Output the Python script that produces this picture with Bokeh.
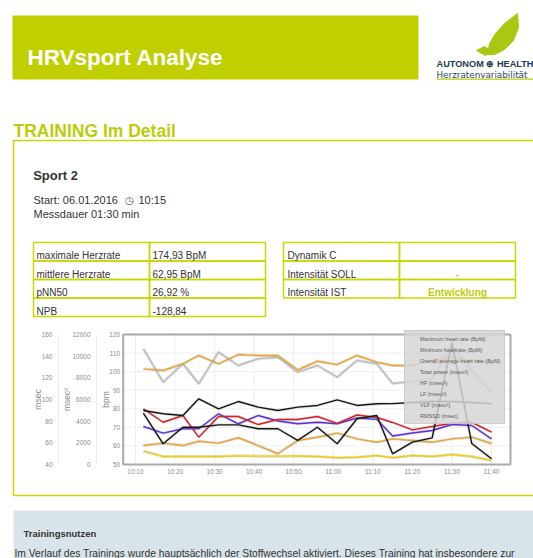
from math import pi
from bokeh.plotting import figure
from bokeh.models import (Range1d, LinearAxis, FixedTicker, Label, Legend, LegendItem,
                          ColumnDataSource)
from bokeh.embed import file_html
from bokeh.resources import INLINE

# ---------------- data ----------------
times = ["10:12", "10:17", "10:22", "10:26", "10:31", "10:36", "10:41", "10:46", "10:51", "10:56",
         "11:01", "11:06", "11:11", "11:15", "11:20", "11:25", "11:30", "11:35", "11:40"]
max_hr = [101.5, 100.6, 104.2, 108.7, 104.2, 109.2, 108.7, 108.7, 101.0, 105.6,
          103.8, 108.7, 105.1, 103.3, 103.3, 106.5, 107.6, 106.0, 104.9]
min_hr = [60.2, 61.5, 60.2, 62.5, 61.5, 64.4, 60.2, 55.8, 62.9, 64.7,
          66.9, 63.8, 62.0, 63.8, 62.9, 62.0, 63.8, 64.7, 61.3]
avg_hr = [79.1, 77.3, 76.4, 85.4, 80.0, 83.9, 80.9, 79.1, 80.9, 81.8,
          84.8, 81.8, 82.7, 82.8, 83.4, 83.9, 83.9, 83.4, 82.8]
total_power = [10680, 7600, 9300, 7450, 10370, 9140, 9760, 9900, 8520, 9140,
               8060, 9600, 9300, 7480, 7660, 7940, 10980, 8680, 6650]
hf = [1230, 740, 740, 740, 740, 800, 770, 770, 790, 740,
      620, 670, 830, 620, 830, 740, 920, 740, 370]
lf = [5140, 3900, 4520, 2520, 4430, 4430, 3690, 4150, 4150, 4430,
      3790, 4570, 4340, 3880, 3200, 3510, 3810, 3900, 2980]
vlf = [3510, 2890, 3300, 3300, 4680, 3760, 4520, 4020, 3760, 3900,
       3760, 4290, 4170, 2630, 2910, 3140, 3690, 3600, 2370]
rmssd = [87.4, 59.1, 74.4, 74.4, 76.6, 76.6, 73.0, 73.0, 62.2, 74.4,
         59.1, 82.2, 85.2, 49.9, 60.6, 64.6, 152.6, 59.4, 45.3]

series_names = ["Maximum heart rate (BpM)", "Minimum heartrate (BpM)",
                "Overall average heart rate (BpM)", "Total power (msec²)",
                "HF (msec²)", "LF (msec²)", "VLF (msec²)", "RMSSD (msec)"]

x_tick_labels = ["10:10", "10:20", "10:30", "10:40", "10:50", "11:00",
                 "11:10", "11:20", "11:30", "11:40"]
bpm_ticks = [50, 60, 70, 80, 90, 100, 110, 120]
msec2_ticks = [0, 2000, 4000, 6000, 8000, 10000, 12000]
msec_ticks = [40, 60, 80, 100, 120, 140, 160]

stats_labels = ["maximale Herzrate", "mittlere Herzrate", "pNN50", "NPB"]
stats_values = ["174,93 BpM", "62,95 BpM", "26,92 %", "-128,84"]
intens_labels = ["Dynamik C", "Intensität SOLL", "Intensität IST"]
intens_values = ["", "-", "Entwicklung"]


def minutes(t):
    h, m = t.split(":")
    return (int(h) - 10) * 60 + int(m)


xs = [minutes(t) for t in times]
tick_pos = [minutes(t) for t in x_tick_labels]

FONT = "Liberation Sans"
W, H = 533, 558

# chart box on the page (pixels from top-left) and its data limits
CH_L, CH_R, CH_T, CH_B = 122.7, 510.0, 334.0, 464.0
T_MIN, T_MAX = 6.9, 104.8
BPM_MIN, BPM_MAX = 50, 120
MS2_MIN, MS2_MAX = 0, 12000
MS_MIN, MS_MAX = 40, 160


def page_range(v_a, v_b, px_a, px_b, px_start, px_end):
    k = (v_b - v_a) / (px_b - px_a)
    return Range1d(v_a + (px_start - px_a) * k, v_a + (px_end - px_a) * k)


# the frame covers the whole page; page coordinates: x right, y down
p = figure(width=W, height=H, output_backend="svg", toolbar_location=None,
           x_range=Range1d(0, W), y_range=Range1d(H, 0),
           x_axis_type=None, y_axis_type=None,
           min_border=0, min_border_left=0, min_border_right=0,
           min_border_top=0, min_border_bottom=0)
p.outline_line_color = None
p.background_fill_color = "white"
p.border_fill_color = "white"
p.grid.visible = False

p.extra_x_ranges = {"time": page_range(T_MIN, T_MAX, CH_L, CH_R, 0, W)}
p.extra_y_ranges = {
    "bpm": page_range(BPM_MAX, BPM_MIN, CH_T, CH_B, H, 0),
    "msec2": page_range(MS2_MAX, MS2_MIN, CH_T, CH_B, H, 0),
    "msec": page_range(MS_MAX, MS_MIN, CH_T, CH_B, H, 0),
}


def txt(x, y, s, size, color="#333333", bold=False, align="left", font=FONT,
        angle=0.0, baseline="alphabetic"):
    p.add_layout(Label(x=x, y=y, text=s, text_font=font,
                       text_font_size=f"{size}px", text_color=color,
                       text_font_style="bold" if bold else "normal",
                       text_align=align, text_baseline=baseline, angle=angle))


def box(l, t, r, b, fill=None, line=None, lw=1.0):
    p.quad(left=[l], right=[r], top=[t], bottom=[b],
           fill_color=fill if fill else "white", fill_alpha=1.0 if fill else 0.0,
           line_color=line if line else None, line_width=lw)


GREEN = "#c0cf00"
LINE_GREEN = "#c9d600"
TITLE_GREEN = "#bccc0a"

# ---------------- page decoration ----------------
box(12, 15, 418, 79, fill=GREEN)
txt(27, 57, "HRVsport Analyse", 22.5, "white", bold=True)

p.patch([487, 489, 495, 504, 517, 518, 513, 504, 494],
        [54, 43, 33, 23, 13, 27, 40, 49, 54], fill_color="#a9c812", line_color="#a9c812")
p.patch([476, 484, 492, 485], [50, 46, 51, 55], fill_color="#a9c812", line_color="#a9c812")
txt(436, 63, "AUTONOM ⊕ HEALTH", 9.2, "#1f3a4d", bold=True)
txt(436, 74, "Herzratenvariabilität", 8.8, "#2a4a5c", font="DejaVu Sans")
box(436, 78, 540, 79.3, fill="#b8cc10")

txt(13, 130, "TRAINING Im Detail", 17.5, TITLE_GREEN, bold=True)
box(13, 140, 560, 495, line=LINE_GREEN, lw=1.5)

txt(32.7, 175, "Sport 2", 13, "#333333", bold=True)
txt(33, 199, "Start: 06.01.2016", 11, "#333333")
txt(129, 199, "◷", 10.5, "#555555", align="center", font="DejaVu Sans")
txt(138, 199, "10:15", 11, "#333333")
txt(33, 213.5, "Messdauer 01:30 min", 11, "#333333")

row_tops = [242, 260.5, 279, 297.5, 316]
for i, (lab, val) in enumerate(zip(stats_labels, stats_values)):
    t, b = row_tops[i], row_tops[i + 1]
    box(33, t, 149, b, line=LINE_GREEN, lw=1.5)
    box(149, t, 265, b, line=LINE_GREEN, lw=1.5)
    txt(36, t + 13, lab, 10, "#333333")
    txt(152, t + 13, val, 10, "#333333")
for i, (lab, val) in enumerate(zip(intens_labels, intens_values)):
    t, b = row_tops[i], row_tops[i + 1]
    box(283, t, 399, b, line=LINE_GREEN, lw=1.5)
    box(399, t, 515, b, line=LINE_GREEN, lw=1.5)
    txt(287, t + 13, lab, 10, "#333333")
    if val:
        txt(457, t + 13, val, 10, TITLE_GREEN, bold=True, align="center")

box(13, 510, 560, 600, fill="#d8e4e9")
txt(23, 533, "Trainingsnutzen", 9.5, "#333333", bold=True)
txt(14, 553, "Im Verlauf des Trainings wurde hauptsächlich der Stoffwechsel aktiviert. "
             "Dieses Training hat insbesondere zur", 10.3, "#333333")

# ---------------- chart ----------------
p.segment(x0=tick_pos, x1=tick_pos, y0=[BPM_MIN] * len(tick_pos), y1=[BPM_MAX] * len(tick_pos),
          x_range_name="time", y_range_name="bpm", line_color="#eeeeee", line_width=1)
p.segment(x0=[T_MIN] * len(bpm_ticks), x1=[T_MAX] * len(bpm_ticks), y0=bpm_ticks, y1=bpm_ticks,
          x_range_name="time", y_range_name="bpm", line_color="#eeeeee", line_width=1)

line_specs = [
    (total_power, "msec2", "#bdbdbd"),
    (max_hr, "bpm", "#eba52c"),
    (min_hr, "bpm", "#eba52c"),
    (hf, "msec2", "#f2cf00"),
    (vlf, "msec2", "#5a2de0"),
    (lf, "msec2", "#d8202a"),
    (avg_hr, "bpm", "#151515"),
    (rmssd, "msec", "#151515"),
]
for vals, rng, col in line_specs:
    src = ColumnDataSource(dict(x=xs, y=vals))
    p.line("x", "y", source=src, x_range_name="time", y_range_name=rng,
           line_color="#7a7a7a", line_alpha=0.22, line_width=3)
    p.line("x", "y", source=src, x_range_name="time", y_range_name=rng,
           line_color=col, line_width=1.4)

p.quad(left=[T_MIN], right=[T_MAX], bottom=[BPM_MIN], top=[BPM_MAX],
       x_range_name="time", y_range_name="bpm", fill_alpha=0,
       line_color="#a9a9a9", line_width=2)

xa = LinearAxis(x_range_name="time", fixed_location=CH_B, ticker=FixedTicker(ticks=tick_pos),
                major_label_overrides={tp: lab for tp, lab in zip(tick_pos, x_tick_labels)})
ya = LinearAxis(y_range_name="bpm", fixed_location=CH_L, ticker=FixedTicker(ticks=bpm_ticks))
ya2 = LinearAxis(y_range_name="msec2", fixed_location=96, ticker=FixedTicker(ticks=msec2_ticks),
                 bounds=(MS2_MIN, MS2_MAX))
ya3 = LinearAxis(y_range_name="msec", fixed_location=58, ticker=FixedTicker(ticks=msec_ticks),
                 bounds=(MS_MIN, MS_MAX))
for ax in [xa, ya, ya2, ya3]:
    ax.major_tick_line_color = None
    ax.minor_tick_line_color = None
    ax.major_tick_out = 0
    ax.major_tick_in = 0
    ax.minor_tick_out = 0
    ax.minor_tick_in = 0
    ax.major_label_text_font = FONT
    ax.major_label_text_font_size = "6.5px"
    ax.major_label_text_color = "#8a8a8a"
    ax.major_label_standoff = 3
xa.axis_line_color = None
ya.axis_line_color = None
ya2.axis_line_color = "#ececec"
ya3.axis_line_color = "#ececec"
ya2.major_label_standoff = 6
ya3.major_label_standoff = 6
p.add_layout(xa, "below")
p.add_layout(ya, "left")
p.add_layout(ya2, "left")
p.add_layout(ya3, "left")

txt(105, 399, "bpm", 8.5, "#8a8a8a", angle=pi / 2, align="center", baseline="middle")
txt(66, 399, "msec²", 8.5, "#8a8a8a", angle=pi / 2, align="center", baseline="middle")
txt(37, 399, "msec", 8.5, "#8a8a8a", angle=pi / 2, align="center", baseline="middle")

swatch_colors = ["#ffa500", "#ffa500", "#000000", "#cccccc", "#ffd700", "#e00000", "#3a00d6", "#000000"]
items = []
for name, col in zip(series_names, swatch_colors):
    r = p.quad(left=[], right=[], top=[], bottom=[], fill_color=col, line_color=None)
    items.append(LegendItem(label=name, renderers=[r]))
legend = Legend(items=items, location=(404, H - 424), margin=0, padding=4, spacing=4,
                glyph_width=7, glyph_height=7, label_height=7, label_standoff=4,
                label_text_font=FONT, label_text_font_size="5.5px", label_text_color="#5a5a5a",
                background_fill_color="#d6d6d6", background_fill_alpha=0.85,
                border_line_color="#bdbdbd", border_line_width=1)
p.add_layout(legend)

open("out.html", "w").write(file_html(p, INLINE))
